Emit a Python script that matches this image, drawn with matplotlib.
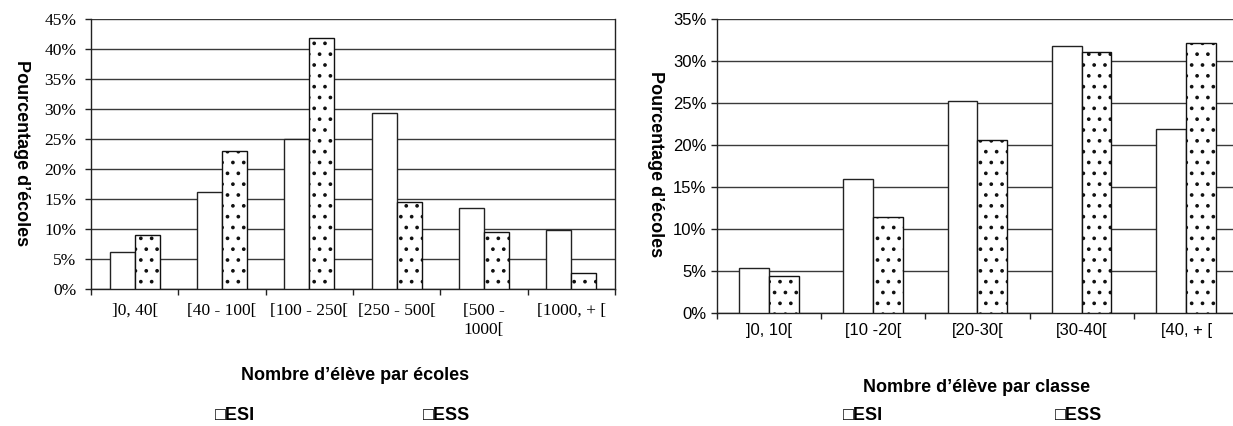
import numpy as np
import matplotlib
matplotlib.use("Agg")
import matplotlib.pyplot as plt
from matplotlib.ticker import FixedLocator, PercentFormatter

# data
ecole_cats = ["]0, 40[", "[40 - 100[", "[100 - 250[", "[250 - 500[", "[500 -\n1000[", "[1000, + ["]
ecole_esi = [6.2, 16.2, 25.0, 29.3, 13.4, 9.8]
ecole_ess = [8.9, 22.9, 41.8, 14.5, 9.4, 2.7]

classe_cats = ["]0, 10[", "[10 -20[", "[20-30[", "[30-40[", "[40, + ["]
classe_esi = [5.4, 16.0, 25.2, 31.7, 21.9]
classe_ess = [4.4, 11.5, 20.6, 31.1, 32.1]

series_names = ["ESI", "ESS"]

W, H = 1233, 426
DPI = 130          # hatch cell follows dpi, 130 gives the sparser dot grid of the original
S = 100 / DPI      # sizes below are written for 100 dpi and scaled by S

plt.rcParams["hatch.linewidth"] = 1.1 * S
fig = plt.figure(figsize=(W / DPI, H / DPI), dpi=DPI)

BOLD = ["Liberation Sans", "DejaVu Sans"]


def draw_panel(ax, cats, esi, ess, ymax, tick_family, tick_size, xpad, ypad):
    x = np.arange(len(cats))
    bw = 0.285
    ax.bar(x - bw / 2, esi, bw, color="white", edgecolor="#222222", linewidth=1.0 * S, zorder=3)
    ax.bar(x + bw / 2, ess, bw, color="white", edgecolor="#111111", linewidth=1.0 * S,
           hatch="..", zorder=3)
    ax.set_xlim(-0.5, len(cats) - 0.5)
    ax.set_ylim(0, ymax)
    ax.yaxis.set_major_locator(FixedLocator(np.arange(0, ymax + 0.1, 5)))
    ax.yaxis.set_major_formatter(PercentFormatter(decimals=0))
    ax.grid(axis="y", color="#3a3a3a", linewidth=1.0 * S, zorder=0)
    ax.set_axisbelow(True)
    # ticks at category boundaries, labels at centres
    ax.xaxis.set_major_locator(FixedLocator(np.arange(len(cats) + 1) - 0.5))
    ax.xaxis.set_major_formatter(plt.NullFormatter())
    ax.xaxis.set_minor_locator(FixedLocator(x))
    ax.set_xticklabels(cats, minor=True, family=tick_family, fontsize=tick_size * S,
                       linespacing=1.25, va="top")
    ax.tick_params(axis="x", which="major", direction="out", length=4 * S, width=1 * S,
                   color="#222222")
    ax.tick_params(axis="x", which="minor", length=0, pad=xpad * S)
    ax.tick_params(axis="y", direction="out", length=4 * S, width=1 * S, color="#222222",
                   pad=ypad * S, labelsize=tick_size * S)
    for t in ax.get_yticklabels():
        t.set_family(tick_family)
    for s in ["left", "bottom", "right"]:
        ax.spines[s].set_color("#222222")
        ax.spines[s].set_linewidth(1.0 * S)
    ax.spines["top"].set_visible(False)


# left panel: pixels 91..615 horizontally, 18.7..288.7 vertically
ax1 = fig.add_axes([91 / W, 1 - 288.7 / H, 524 / W, 270 / H])
draw_panel(ax1, ecole_cats, ecole_esi, ecole_ess, 45, "Liberation Serif", 12.5, 10, 6.5)

# right panel runs past the image edge like the reference
ax2 = fig.add_axes([716.7 / W, 1 - 313.3 / H, 521.5 / W, 294.6 / H])
draw_panel(ax2, classe_cats, classe_esi, classe_ess, 35, "Liberation Sans", 12, 7, 3.5)
ax2.spines["right"].set_visible(False)

# axis titles
lab = dict(family=BOLD, fontweight="bold", fontsize=13 * S)
fig.text(21 / W, 1 - 153 / H, "Pourcentage d\u2019écoles", rotation=270, ha="center",
         va="center", **lab)
fig.text(655 / W, 1 - 164 / H, "Pourcentage d\u2019écoles", rotation=270, ha="center",
         va="center", **lab)
fig.text(355 / W, 1 - 376 / H, "Nombre d\u2019élève par écoles", ha="center", va="center", **lab)
fig.text(977 / W, 1 - 388 / H, "Nombre d\u2019élève par classe", ha="center", va="center", **lab)

# legends as in the reference (plain text boxes)
for xpix, name in zip([215, 423], series_names):
    fig.text(xpix / W, 1 - 416 / H, "\u25a1" + name, ha="left", va="center", **lab)
for xpix, name in zip([843, 1055], series_names):
    fig.text(xpix / W, 1 - 415 / H, "\u25a1" + name, ha="left", va="center", **lab)

fig.savefig("out.png", dpi=DPI)
